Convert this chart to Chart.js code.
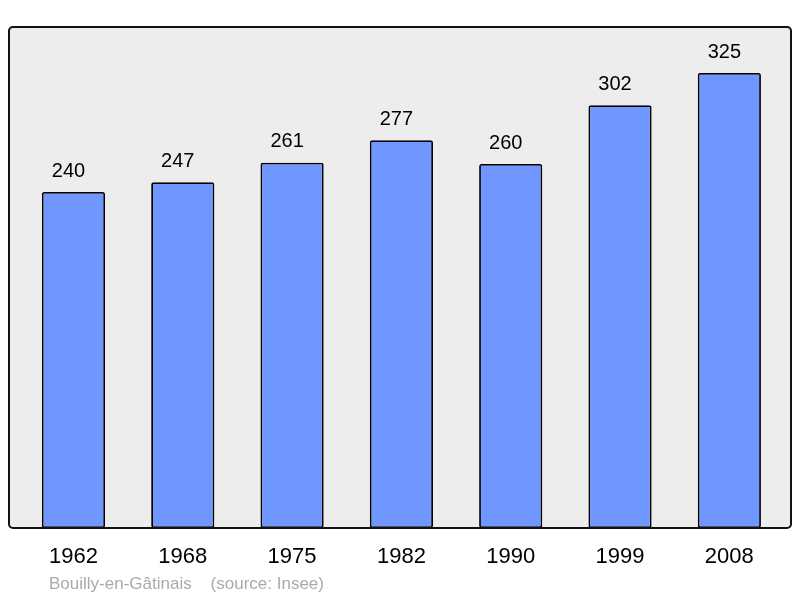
<!DOCTYPE html>
<html>
<head>
<meta charset="utf-8">
<script src="https://cdn.jsdelivr.net/npm/chart.js@4/dist/chart.umd.min.js"></script>
<style>
    html, body { margin: 0; padding: 0; background: #fff; }
    #wrap { width: 800px; height: 598px; position: relative; }
</style>
</head>
<body>
<div id="wrap"><canvas id="popChart" width="800" height="598"></canvas></div>
<script>
// Population — Bouilly-en-Gâtinais
const years = ['1962', '1968', '1975', '1982', '1990', '1999', '2008'];
const population = [240, 247, 261, 277, 260, 302, 325];
const caption = 'Bouilly-en-Gâtinais    (source: Insee)';

const font = "'Liberation Sans', Arial, sans-serif";

// Frame, value labels, year labels, caption
const decor = {
    id: 'decor',
    beforeDraw(chart) {
        const ctx = chart.ctx;
        ctx.save();
        ctx.beginPath();
        ctx.roundRect(9, 27, 782, 501, 4);
        ctx.fillStyle = '#ededed';
        ctx.fill();
        ctx.restore();
    },
    afterDatasetsDraw(chart) {
        const ctx = chart.ctx;
        const x = chart.scales.x;
        const meta = chart.getDatasetMeta(0);
        ctx.save();
        ctx.beginPath();
        ctx.roundRect(9, 27, 782, 501, 4);
        ctx.lineWidth = 2;
        ctx.strokeStyle = '#111';
        ctx.stroke();

        ctx.fillStyle = '#000';
        ctx.textAlign = 'center';
        ctx.textBaseline = 'middle';
        ctx.font = '20px ' + font;
        meta.data.forEach((bar, i) => {
            ctx.fillText(String(population[i]), bar.x - 5, bar.y - 21);
        });

        ctx.font = '22px ' + font;
        years.forEach((y, i) => {
            ctx.fillText(y, x.getPixelForValue(i), 557);
        });

        ctx.fillStyle = '#aaaaaa';
        ctx.textAlign = 'left';
        ctx.font = '17px ' + font;
        ctx.fillText(caption, 49, 584);
        ctx.restore();
    }
};

new Chart(document.getElementById('popChart'), {
    type: 'bar',
    data: {
        labels: years,
        datasets: [{
            data: population,
            backgroundColor: '#7096ff',
            borderColor: '#000',
            borderWidth: 1.8,
            borderRadius: 2,
            borderSkipped: false,
            barPercentage: 0.578,
            categoryPercentage: 1
        }]
    },
    options: {
        responsive: false,
        animation: false,
        layout: { padding: { top: 27, bottom: 70, left: 18.8, right: 16 } },
        plugins: { legend: { display: false }, tooltip: { enabled: false } },
        scales: {
            x: { display: false },
            y: { display: false, min: 0, max: 357.9 }
        }
    },
    plugins: [decor]
});
</script>
</body>
</html>
